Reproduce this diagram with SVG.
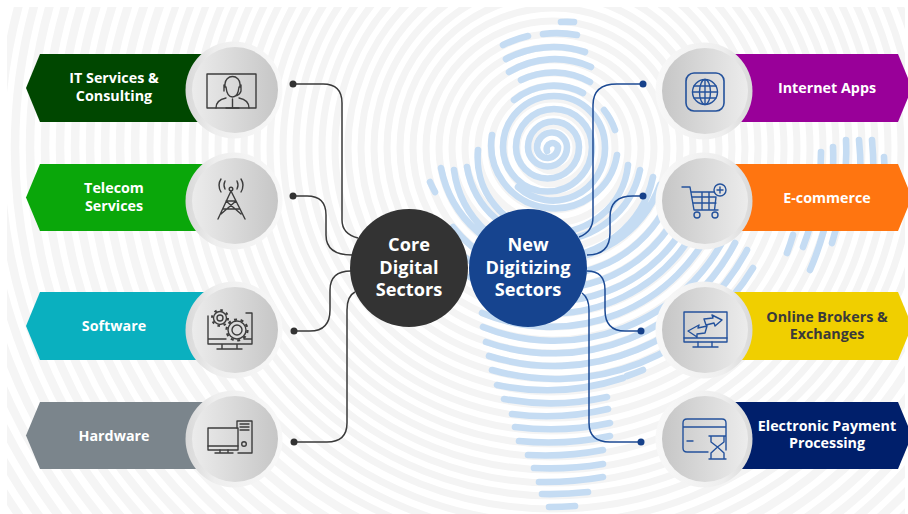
<svg xmlns="http://www.w3.org/2000/svg" width="908" height="514" viewBox="0 0 908 514">
<style>
.r{fill:none;stroke:#f4f4f4;stroke-width:7}
.r2{fill:none;stroke:#f5f5f5;stroke-width:8.500}
.b{fill:none;stroke:#c5dcf3;stroke-width:6.6;stroke-linecap:round}
.k{fill:none;stroke-width:1.5}
.kd{stroke:#3a3a3a}.kb{stroke:#1c4a94}
.dd{fill:#333}.db{fill:#16418a}
text{font-family:"Open Sans","Noto Sans",sans-serif;font-weight:700;text-anchor:middle}
.l{font-size:14.3px;fill:#fff}.ld{font-size:14.3px;fill:#3a3a3a}
.c{font-size:18.2px;fill:#fff}
.i{fill:none;stroke-width:1.4;stroke-linejoin:round;stroke-linecap:round}
.id{stroke:#3d3d3d}.ib{stroke:#24529c}
</style>
<defs>
<clipPath id="cp"><rect x="7" y="7" width="898" height="507"/></clipPath>
<linearGradient id="gl" x1="0" y1="0" x2="1" y2="0"><stop offset="0" stop-color="#ececec"/><stop offset="1" stop-color="#c6c6c6"/></linearGradient>
<linearGradient id="gr" x1="0" y1="0" x2="1" y2="0"><stop offset="0" stop-color="#c6c6c6"/><stop offset="1" stop-color="#ececec"/></linearGradient>
<linearGradient id="hl" x1="0" y1="0" x2="1" y2="0"><stop offset="0" stop-color="#d8d8d8"/><stop offset="0.3" stop-color="#eeeeee"/><stop offset="1" stop-color="#f8f8f8"/></linearGradient>
<linearGradient id="hr" x1="0" y1="0" x2="1" y2="0"><stop offset="0" stop-color="#f8f8f8"/><stop offset="0.7" stop-color="#eeeeee"/><stop offset="1" stop-color="#d8d8d8"/></linearGradient>
<g id="cl"><circle r="48.500" cx="-1" fill="url(#hl)"/><circle r="43" fill="url(#gl)"/></g>
<g id="cr"><circle r="48.500" cx="-1" fill="url(#hr)"/><circle r="43" fill="url(#gr)"/></g>
</defs>
<rect width="908" height="514" fill="#fff"/>
<g id="background" clip-path="url(#cp)">
<g id="rings" transform="translate(553 148)">
<circle class="r" r="23"/><circle class="r" r="36"/><circle class="r" r="49"/><circle class="r" r="62"/><circle class="r" r="75"/><circle class="r" r="88"/><circle class="r" r="101"/><circle class="r" r="114"/><circle class="r" r="127"/><circle class="r" r="140"/><circle class="r" r="153"/><circle class="r" r="166"/><circle class="r" r="179"/><circle class="r" r="192"/><circle class="r" r="205"/><circle class="r" r="218"/><circle class="r" r="231"/><circle class="r" r="244"/><circle class="r" r="257"/><circle class="r" r="270"/><circle class="r" r="283"/><circle class="r" r="296"/><circle class="r" r="309"/><circle class="r" r="322"/><circle class="r" r="335"/><circle class="r" r="348"/><circle class="r" r="361"/><circle class="r" r="375"/><circle class="r" r="389"/><circle class="r" r="403"/><circle class="r2" r="418"/><circle class="r2" r="433"/><circle class="r2" r="448"/><circle class="r2" r="463"/><circle class="r2" r="478"/><circle class="r2" r="493"/><circle class="r2" r="508"/><circle class="r2" r="523"/><circle class="r2" r="538"/><circle class="r2" r="553"/><circle class="r2" r="568"/><circle class="r2" r="584"/><circle class="r2" r="600"/><circle class="r2" r="616"/><circle class="r2" r="632"/><circle class="r2" r="648"/>
</g>
<g id="map">
<path class="b" d="M547 151A5.500 5.500 0 0 1 558 147A10.500 10.500 0 0 1 537 148A15 15 0 0 1 567 147A19.500 19.500 0 0 1 528 147A25.500 25.500 0 0 1 579 147A31.500 31.500 0 0 1 516 147A38 38 0 0 1 592 147A44.500 44.500 0 0 1 503 147A51 51 0 0 1 605 147A52 52 0 0 1 518 187"/>
<path class="b" d="M561 22A124 124 0 0 1 574 22M543 34A112 112 0 0 1 577 35M503 45A112 112 0 0 1 528 36M506 59A101 101 0 0 1 585 52M509 72A88 88 0 0 1 591 67M521 80A74 74 0 0 1 590 82M514 100A62 62 0 0 1 583 93M604 110A66 66 0 0 1 615 130"/>
<path class="b" d="M492 135A62 62 0 1 0 617 155M478 150A75 75 0 0 0 628 165M467 167A88 88 0 0 0 640 170M454 170A101 101 0 0 0 653 177M441 168A114 114 0 0 0 660 185M430 182A114 114 0 0 0 435 192"/>
<path class="b" d="M453 227A127 127 0 0 0 678 170M466 258A140 140 0 0 0 690 178M470 277A153 153 0 0 0 700 190M490 302A166 166 0 0 0 710 195"/>
<path class="b" d="M482 313A179 179 0 0 0 715 220M483 327A192 192 0 0 0 727 233M486 342A205 205 0 0 0 735 243M489 356A218 218 0 0 0 747 250M492 370A231 231 0 0 0 753 268M497 385A244 244 0 0 0 623 378M627 376A244 244 0 0 0 643 370M504 399A255 255 0 0 0 607 397M512 414A268 268 0 0 0 608 409M515 427A281 281 0 0 0 610 423M519 441A294 294 0 0 0 610 436M528 455A307 307 0 0 0 603 450M534 468A320 320 0 0 0 603 464M539 482A333 333 0 0 0 603 477M542 494A346 346 0 0 0 588 492M549 507A359 359 0 0 0 575 506"/>
<path class="b" d="M793 235A255 255 0 0 1 787 253M821 152A268 268 0 0 1 803 247M833 147A281 281 0 0 1 810 270M846 140A294 294 0 0 1 832 243M859 140A307 307 0 0 1 858 210M872 140A320 320 0 0 1 872 200M884 157A331 331 0 0 1 884 200"/>
</g>
</g>
<g id="connectors">
<path class="k kd" d="M293 84H323Q342 84 342 103V220Q342 234 358 238"/>
<path class="k kd" d="M293 196H307Q326 196 326 215V235Q326 255 352 255"/>
<path class="k kd" d="M294 331H310Q330 331 330 310V290Q330 271 351 271"/>
<path class="k kd" d="M294 442H327Q347 442 347 423V310Q347 296 355 292"/>
<path class="k kb" d="M643 84H617Q593 84 593 105V217Q593 232 579 237"/>
<path class="k kb" d="M643 196H633Q610 196 610 217V233Q610 255 587 255"/>
<path class="k kb" d="M641 331H625Q605 331 605 310V290Q605 271 587 271"/>
<path class="k kb" d="M641 442H610Q589 442 589 423V310Q589 298 582 293"/>
<circle class="dd" cx="293" cy="84" r="3.500"/><circle class="dd" cx="293" cy="196" r="3.500"/><circle class="dd" cx="294" cy="331" r="3.500"/><circle class="dd" cx="294" cy="442" r="3.500"/>
<circle class="db" cx="643" cy="84" r="3.500"/><circle class="db" cx="643" cy="196" r="3.500"/><circle class="db" cx="641" cy="331" r="3.500"/><circle class="db" cx="641" cy="442" r="3.500"/>
</g>
<g id="node-core"><circle cx="409" cy="268" r="59" fill="#333"/>
<text class="c" x="409" y="251">Core</text><text class="c" x="409" y="273.500">Digital</text><text class="c" x="409" y="296">Sectors</text></g>
<g id="node-new"><circle cx="528" cy="268" r="59" fill="#16448f"/>
<text class="c" x="528" y="251">New</text><text class="c" x="528" y="273.500">Digitizing</text><text class="c" x="528" y="296">Sectors</text></g>
<g id="node-it">
<path fill="#004700" d="M40 54H220V122H40L26 88Z"/><use href="#cl" x="235" y="90"/>
<text class="l" x="114" y="83">IT Services &amp;</text><text class="l" x="114" y="101">Consulting</text>
<g class="i id"><rect x="207" y="74" width="49" height="34"/><path d="M225 87V84A7.500 7.500 0 0 1 240 84V87M224 85V91M241 85V91M226 87Q227 97 232.500 97Q238 97 239 87M241 91Q240 95 235 96M216 108Q216 100 226 98M249 108Q249 100 239 98M232.500 99V108M226 108H239"/></g>
</g>
<g id="node-telecom">
<path fill="#0aa70a" d="M40 164H220V231H40L26 197.500Z"/><use href="#cl" x="235" y="201"/>
<text class="l" x="114" y="193">Telecom</text><text class="l" x="114" y="211">Services</text>
<g class="i id"><circle cx="231" cy="189" r="1.800"/><path d="M231 191L218 219M231 191L245 219M223 209H239M226 201H236M226 201L241 214M236 201L221 214M225 189Q223 185 225 181M237 189Q239 185 237 181M221 192Q217 185 221 179M241 192Q245 185 241 179"/></g>
</g>
<g id="node-software">
<path fill="#0ab0bf" d="M40 292H220V360H40L26 326Z"/><use href="#cl" x="235" y="330"/>
<text class="l" x="114" y="331">Software</text>
<g class="i id"><path d="M208 316V344H252V313H246M208 339H226M244 339H252M222 344V349M237 344V349M217 349H242"/><circle cx="220" cy="318" r="6.500" fill="#dcdcdc"/><circle cx="220" cy="318" r="8" stroke-width="2" stroke-dasharray="2.500 3.800" stroke-linecap="butt"/><circle cx="220" cy="318" r="3"/><circle cx="237" cy="330" r="9" fill="#dcdcdc"/><circle cx="237" cy="330" r="10.500" stroke-width="2.200" stroke-dasharray="3 3.600" stroke-linecap="butt"/><circle cx="237" cy="330" r="5"/></g>
</g>
<g id="node-hardware">
<path fill="#7b858c" d="M40 402H220V469H40L26 435.500Z"/><use href="#cl" x="235" y="439"/>
<text class="l" x="114" y="441">Hardware</text>
<g class="i id"><rect x="208" y="428" width="30" height="22"/><path d="M208 446H238M220 450V453M228 450V453M215 453H233M237 428V421H252V453H238M240 424H249M240 427H249M240 430H249"/><circle cx="244" cy="444" r="2.300"/></g>
</g>
<g id="node-internet">
<path fill="#990099" d="M720 54H898L912 88L898 122H720Z"/><use href="#cr" x="705" y="91"/>
<text class="l" x="827" y="93">Internet Apps</text>
<g class="i ib"><rect x="686" y="73" width="38" height="38" rx="8" stroke-width="1.600"/><circle cx="705" cy="92" r="12.500"/><ellipse cx="705" cy="92" rx="5.500" ry="12.500"/><path d="M692.500 92H717.500M694 86H716M694 98H716M705 79.500V104.500"/></g>
</g>
<g id="node-ecommerce">
<path fill="#ff7510" d="M720 164H898L912 197.500L898 231H720Z"/><use href="#cr" x="705" y="201"/>
<text class="l" x="827" y="203">E-commerce</text>
<g class="i ib"><path d="M682 187H690L694 210H718M691 192H714M692 197H716M693 203H716M702 192V210M709 192V210M716 197L714.500 210"/><circle cx="697" cy="215" r="3"/><circle cx="715" cy="215" r="3"/><circle cx="720" cy="190" r="6"/><path d="M720 187V193M717 190H723"/></g>
</g>
<g id="node-brokers">
<path fill="#f0cf00" d="M720 292H898L912 326L898 360H720Z"/><use href="#cr" x="705" y="330"/>
<text class="ld" x="827" y="322">Online Brokers &amp;</text><text class="ld" x="827" y="339">Exchanges</text>
<g class="i ib"><rect x="684" y="312" width="43" height="30"/><path d="M684 338H727M698 342V347M712 342V347M693 347H718M704 319L713 318L712 315L722 320L715 326L714 323L706 325ZM707 326L698 328L699 325L688 331L697 337L697 334L705 333Z"/></g>
</g>
<g id="node-payment">
<path fill="#001f6b" d="M720 402H898L912 435.500L898 469H720Z"/><use href="#cr" x="705" y="439"/>
<text class="l" x="827" y="431">Electronic Payment</text><text class="l" x="827" y="448">Processing</text>
<g class="i ib"><path d="M708 452H687Q683 452 683 448V423Q683 419 687 419H722Q726 419 726 423V450M683 427H726M687 441H693M709 436H726M709 459H726M711 436V442L717.500 447L711 453V459M724 436V442L717.500 447L724 453V459"/></g>
</g>
</svg>
